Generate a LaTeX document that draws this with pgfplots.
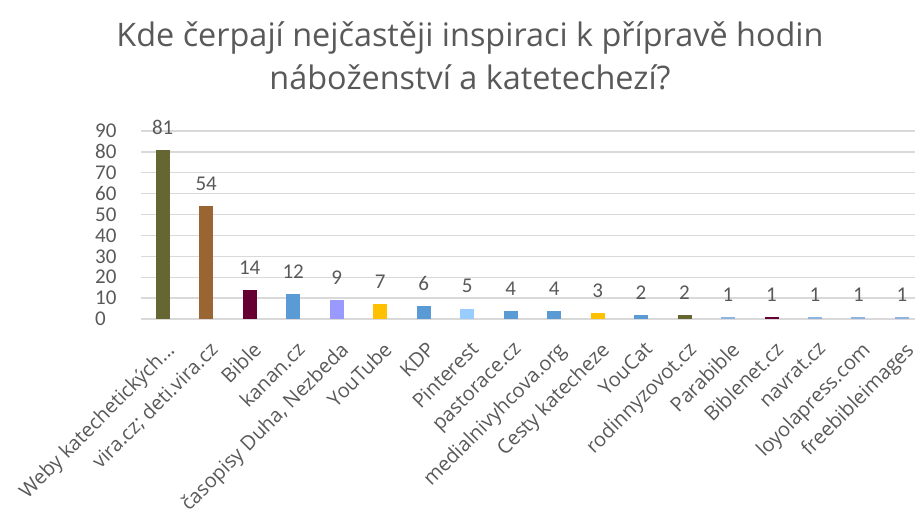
\documentclass[border=0pt]{standalone}
\usepackage{pgfplots}
\pgfplotsset{compat=1.18}
\usepackage{fontspec}
\setmainfont{Open Sans}
\newfontfamily\calibri{Carlito}
\definecolor{txt}{HTML}{595959}
\definecolor{gridc}{HTML}{D9D9D9}
\definecolor{c1}{HTML}{666633}
\definecolor{c2}{HTML}{996633}
\definecolor{c3}{HTML}{660033}
\definecolor{c4}{HTML}{5B9BD5}
\definecolor{c5}{HTML}{9999FF}
\definecolor{c6}{HTML}{FFC000}
\definecolor{c8}{HTML}{99CCFF}
\definecolor{c14}{HTML}{8DB4E2}
\begin{document}
\begin{tikzpicture}
\useasboundingbox (-141pt,-197pt) rectangle (774pt,319pt);
\begin{axis}[
  at={(0,0)}, anchor=south west,
  scale only axis, width=774pt, height=188pt,
  xmin=-0.5, xmax=17.3, ymin=0, ymax=90,
  /pgf/number format/assume math mode=true,
  axis x line*=bottom, axis y line*=left,
  y axis line style={draw=none}, ytick style={draw=none},
  ytick={0,10,...,90},
  yticklabel style={font=\calibri\fontsize{21}{22}\selectfont, text=txt, inner sep=0pt, anchor=west, xshift=-46pt},
  ymajorgrids, grid style={gridc, line width=1.3pt},
  x axis line style={gridc, line width=1.3pt, -},
  xtick={0,...,17}, xtick style={draw=none},
  xticklabels={{Weby katechetických.{}.{}.}, vira.cz; deti.vira.cz, Bible, kanan.cz, {časopisy Duha, Nezbeda}, YouTube, KDP, Pinterest, pastorace.cz, medialnivyhcova.org, Cesty katecheze, YouCat, rodinnyzovot.cz, Parabible, Biblenet.cz, navrat.cz, loyolapress.com, freebibleimages},
  xticklabel style={rotate=45, anchor=north east, font=\fontsize{20}{22}\selectfont, text=txt, inner sep=0pt, xshift=-10.5pt, yshift=-13.5pt},
  ybar, bar width=14pt, bar shift=0pt,
  every axis plot/.append style={draw=none},
  nodes near coords,
  every node near coord/.append style={font=\calibri\fontsize{21}{22}\selectfont, text=txt, yshift=12pt},
  clip=false,
]
\addplot[fill=c1] coordinates {(0,81)};
\addplot[fill=c2] coordinates {(1,54)};
\addplot[fill=c3] coordinates {(2,14)};
\addplot[fill=c4] coordinates {(3,12)};
\addplot[fill=c5] coordinates {(4,9)};
\addplot[fill=c6] coordinates {(5,7)};
\addplot[fill=c4] coordinates {(6,6)};
\addplot[fill=c8] coordinates {(7,5)};
\addplot[fill=c4] coordinates {(8,4)};
\addplot[fill=c4] coordinates {(9,4)};
\addplot[fill=c6] coordinates {(10,3)};
\addplot[fill=c4] coordinates {(11,2)};
\addplot[fill=c1] coordinates {(12,2)};
\addplot[fill=c14] coordinates {(13,1)};
\addplot[fill=c3] coordinates {(14,1)};
\addplot[fill=c14] coordinates {(15,1)};
\addplot[fill=c14] coordinates {(16,1)};
\addplot[fill=c14] coordinates {(17,1)};
\end{axis}
\node[font=\fontsize{32.4}{43}\selectfont, text=txt, align=center] at (329pt, 263pt) {Kde čerpají nejčastěji inspiraci k přípravě hodin\\náboženství a katetechezí?};
\end{tikzpicture}
\end{document}
